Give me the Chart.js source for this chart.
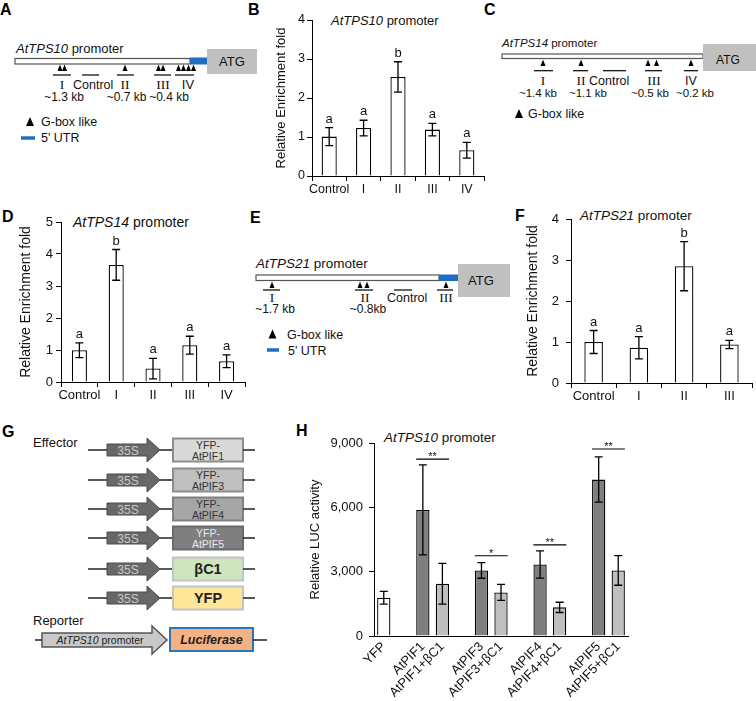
<!DOCTYPE html>
<html>
<head>
<meta charset="utf-8">
<script src="https://cdn.jsdelivr.net/npm/chart.js@4.4.1/dist/chart.umd.min.js"></script>
<style>
    html, body { margin: 0; padding: 0; background: #fff; }
    #fig { position: relative; width: 756px; height: 701px; overflow: hidden; font-family: "Liberation Sans", Arial, sans-serif; }
    #diagrams { position: absolute; left: 0; top: 0; }
    .panel { position: absolute; }
</style>
</head>
<body>
<div id="fig">
    <svg id="diagrams" width="756" height="701" xmlns="http://www.w3.org/2000/svg"></svg>
    <canvas id="chartB" class="panel" style="left:250px;top:0px;width:240px;height:210px" width="240" height="210"></canvas>
    <canvas id="chartD" class="panel" style="left:0px;top:200px;width:255px;height:210px" width="255" height="210"></canvas>
    <canvas id="chartF" class="panel" style="left:500px;top:200px;width:256px;height:210px" width="256" height="210"></canvas>
    <canvas id="chartH" class="panel" style="left:240px;top:420px;width:400px;height:281px" width="400" height="281"></canvas>
</div>
<script>
// --- Data ---
// B: AtTPS10 promoter ChIP
const tps10Labels = ['Control', 'I', 'II', 'III', 'IV'];
const tps10Values = [1.01, 1.23, 2.54, 1.19, 0.66];
const tps10Errors = [0.23, 0.20, 0.39, 0.16, 0.20];
const tps10Letters = ['a', 'a', 'b', 'a', 'a'];

// D: AtTPS14 promoter ChIP
const tps14Labels = ['Control', 'I', 'II', 'III', 'IV'];
const tps14Values = [0.99, 3.66, 0.42, 1.15, 0.65];
const tps14Errors = [0.23, 0.48, 0.32, 0.28, 0.20];
const tps14Letters = ['a', 'b', 'a', 'a', 'a'];

// F: AtTPS21 promoter ChIP
const tps21Labels = ['Control', 'I', 'II', 'III'];
const tps21Values = [1.00, 0.86, 2.85, 0.94];
const tps21Errors = [0.28, 0.27, 0.60, 0.10];
const tps21Letters = ['a', 'a', 'b', 'a'];

// H: LUC activity (empty slots separate the groups)
const lucLabels = ['YFP', '', 'AtPIF1', 'AtPIF1+βC1', '', 'AtPIF3', 'AtPIF3+βC1', '', 'AtPIF4', 'AtPIF4+βC1', '', 'AtPIF5', 'AtPIF5+βC1'];
const lucValues = [1785, null, 5880, 2437, null, 3057, 2033, null, 3337, 1335, null, 7294, 3057];
const lucErrors = [300, null, 2100, 950, null, 365, 372, null, 636, 240, null, 1055, 690];
const lucTicks = [0, 3000, 6000, 9000];
const sigPairs = [[2, 3], [5, 6], [8, 9], [11, 12]];
const sigLevels = [8250, 3740, 4250, 8720];
const sigMarks = ['**', '*', '**', '**'];

const FONT = '"Liberation Sans", Arial, sans-serif';

// --- SVG helpers for the schematic panels ---
const svgNS = 'http://www.w3.org/2000/svg';
const svg = document.getElementById('diagrams');

function el(tag, attrs, text) {
    const e = document.createElementNS(svgNS, tag);
    for (const k in attrs) e.setAttribute(k, attrs[k]);
    if (text != null) e.textContent = text;
    svg.appendChild(e);
    return e;
}
function label(x, y, str, size, extra) {
    return el('text', Object.assign({ x: x, y: y, 'font-size': size, fill: '#111', 'font-family': FONT }, extra || {}), str);
}
function mid(x, y, str, size, extra) {
    return label(x, y, str, size, Object.assign({ 'text-anchor': 'middle' }, extra || {}));
}
function italicLabel(x, y, italicPart, rest, size, extra) {
    const t = label(x, y, '', size, extra);
    const a = document.createElementNS(svgNS, 'tspan');
    a.setAttribute('font-style', 'italic');
    a.textContent = italicPart;
    t.appendChild(a);
    t.appendChild(document.createTextNode(rest));
    return t;
}
// serif roman numerals, like the CJK-style glyphs of the original
function roman(x, y, str, size) {
    return el('text', { x: x, y: y, 'font-size': size || 13.5, fill: '#111', 'text-anchor': 'middle', 'font-family': '"Liberation Serif", "DejaVu Serif", serif' }, str);
}
function tri(cx, baseY, w, h) {
    el('polygon', { points: `${cx - w / 2},${baseY} ${cx + w / 2},${baseY} ${cx},${baseY - h}`, fill: '#000' });
}
function hline(x1, x2, y, w, color) {
    el('line', { x1: x1, y1: y, x2: x2, y2: y, stroke: color || '#000', 'stroke-width': w || 1.2 });
}

// Panel letters
[['A', 0, 15], ['B', 248, 15], ['C', 484, 15], ['D', 2, 222], ['E', 250, 223], ['F', 515, 221], ['G', 2, 437], ['H', 296, 436]]
    .forEach(([t, x, y]) => label(x, y, t, 16, { 'font-weight': 'bold', fill: '#000' }));

// --- Panel A: AtTPS10 promoter ---
italicLabel(16, 53, 'AtTPS10', ' promoter', 13);
el('rect', { x: 15, y: 58.5, width: 175, height: 5.5, fill: '#fff', stroke: '#555', 'stroke-width': 1.2 });
el('rect', { x: 190, y: 57.5, width: 17, height: 7, fill: '#1f6fc0' });
el('rect', { x: 207, y: 49, width: 50, height: 25, fill: '#c0c0c0' });
mid(232, 66, 'ATG', 13);
[60, 64.5, 125, 158.5, 163, 178.5, 183.5, 188.5, 193.5].forEach(x => tri(x, 71, 5, 6.5));
[[53, 71], [82, 99], [117, 134], [154, 171], [175, 194]].forEach(([a, b]) => hline(a, b, 75));
roman(62, 89, 'I');
label(73, 89, 'Control', 12.5);
roman(125, 89, 'II');
roman(163, 89, 'III');
mid(188, 89, 'IV', 13);
mid(64, 101, '~1.3 kb', 12);
mid(126.5, 101, '~0.7 kb', 12);
mid(169, 101, '~0.4 kb', 12);
tri(30, 126, 8, 9);
label(41, 126, 'G-box like', 12.5);
hline(21, 35, 138, 3.5, '#1f6fc0');
label(41, 142, '5\' UTR', 12.5);

// --- Panel C: AtTPS14 promoter ---
italicLabel(502, 47, 'AtTPS14', ' promoter', 11.5);
el('rect', { x: 502, y: 54, width: 201, height: 4.5, fill: '#fff', stroke: '#555', 'stroke-width': 1.2 });
el('rect', { x: 703, y: 44, width: 53, height: 27, fill: '#c0c0c0' });
mid(728, 63.5, 'ATG', 12);
[543, 581, 648, 656.5, 691].forEach(x => tri(x, 66, 5, 6.5));
[[534, 553], [573, 588], [603, 626], [645, 662], [684, 698]].forEach(([a, b]) => hline(a, b, 70.7));
roman(543, 85, 'I');
roman(581, 85, 'II');
label(589, 85, 'Control', 12.5);
roman(654, 85, 'III');
mid(691, 85, 'IV', 12.5);
mid(538, 97, '~1.4 kb', 11.5);
mid(588, 97, '~1.1 kb', 11.5);
mid(650, 97, '~0.5 kb', 11.5);
mid(695, 97, '~0.2 kb', 11.5);
tri(519, 118, 8, 9);
label(528, 118, 'G-box like', 12.5);

// --- Panel E: AtTPS21 promoter ---
italicLabel(256, 268, 'AtTPS21', ' promoter', 13.5);
el('rect', { x: 256, y: 275, width: 183, height: 5.5, fill: '#fff', stroke: '#555', 'stroke-width': 1.2 });
el('rect', { x: 439, y: 274.5, width: 19, height: 6.5, fill: '#1f6fc0' });
el('rect', { x: 458, y: 264, width: 52, height: 33, fill: '#c0c0c0' });
mid(481, 285, 'ATG', 13);
[272, 360, 367, 446].forEach(x => tri(x, 288, 5, 6.5));
[[263, 280], [355, 373], [394, 412], [437, 453]].forEach(([a, b]) => hline(a, b, 290));
roman(272, 302, 'I');
roman(365, 302, 'II');
label(387, 302, 'Control', 12.5);
roman(446, 302, 'III');
mid(275, 313, '~1.7 kb', 12);
mid(368, 313, '~0.8kb', 12);
tri(272.5, 338.5, 8, 9);
label(287, 338.5, 'G-box like', 12.5);
hline(267, 279, 350, 3.5, '#1f6fc0');
label(288, 354.5, '5\' UTR', 12.5);

// --- Panel G: constructs ---
label(33, 447, 'Effector', 13);
const effectorRows = [
    { c: 450, fill: '#d9d9d9', stroke: '#8c8c8c', lines: ['YFP-', 'AtPIF1'], color: '#333' },
    { c: 480, fill: '#bfbfbf', stroke: '#8c8c8c', lines: ['YFP-', 'AtPIF3'], color: '#333' },
    { c: 509, fill: '#a6a6a6', stroke: '#808080', lines: ['YFP-', 'AtPIF4'], color: '#333' },
    { c: 538, fill: '#7f7f7f', stroke: '#6a6a6a', lines: ['YFP-', 'AtPIF5'], color: '#e8e8e8' },
    { c: 569, fill: '#cfe5c0', stroke: '#c4c4c4', bold: 'βC1' },
    { c: 598, fill: '#ffe699', stroke: '#c4c4c4', bold: 'YFP' }
];
effectorRows.forEach(r => {
    const c = r.c;
    hline(88, 107, c, 1.5, '#222');
    el('polygon', { points: `107,${c - 6} 147,${c - 6} 147,${c - 12} 160,${c} 147,${c + 12} 147,${c + 6} 107,${c + 6}`, fill: '#686868', stroke: '#4a4a4a', 'stroke-width': 1 });
    mid(128, c + 4.5, '35S', 12, { fill: '#c8c8c8' });
    hline(160, 173, c, 1.5, '#222');
    el('rect', { x: 173, y: c - 11.5, width: 70, height: 23, fill: r.fill, stroke: r.stroke, 'stroke-width': 2 });
    if (r.lines) {
        mid(208, c - 1.5, r.lines[0], 10.5, { fill: r.color });
        mid(208, c + 10, r.lines[1], 10.5, { fill: r.color });
    } else {
        mid(208, c + 5, r.bold, 14.5, { 'font-weight': 'bold', fill: '#222' });
    }
    hline(243, 255, c, 1.5, '#222');
});
label(33, 625, 'Reporter', 13);
hline(35, 42, 640, 1.5, '#222');
el('polygon', { points: '42,633 152,633 152,626 167,640 152,654 152,647 42,647', fill: '#c8c8c8', stroke: '#555', 'stroke-width': 1.5 });
italicLabel(100, 644, 'AtTPS10', ' promoter', 10.5, { 'text-anchor': 'middle', fill: '#222' });
el('rect', { x: 170, y: 628, width: 83, height: 23, fill: '#f4b183', stroke: '#2e75b6', 'stroke-width': 2 });
mid(211.5, 644, 'Luciferase', 12.5, { 'font-weight': 'bold', 'font-style': 'italic', fill: '#222' });
hline(253, 267, 640, 1.5, '#222');

// Chart titles sitting inside the plot areas
italicLabel(331, 24.5, 'AtTPS10', ' promoter', 13);
italicLabel(73, 227, 'AtTPS14', ' promoter', 14);
italicLabel(580, 220, 'AtTPS21', ' promoter', 13.5);
italicLabel(384, 441.5, 'AtTPS10', ' promoter', 13.5);

// --- Chart.js ---
Chart.defaults.font.family = FONT;
Chart.defaults.color = '#111';
Chart.defaults.animation = false;

const errorBars = {
    id: 'errorBars',
    afterDatasetsDraw(chart, args, opts) {
        const ctx = chart.ctx, y = chart.scales.y;
        const meta = chart.getDatasetMeta(0);
        const values = chart.data.datasets[0].data;
        const cap = opts.cap / 2;
        ctx.save();
        ctx.strokeStyle = '#000';
        ctx.lineWidth = 1.3;
        ctx.fillStyle = '#111';
        ctx.font = `${opts.letterSize || 13}px ${FONT}`;
        ctx.textAlign = 'center';
        ctx.textBaseline = 'alphabetic';
        meta.data.forEach((bar, i) => {
            const v = values[i], e = opts.errors[i];
            if (v == null || e == null) return;
            const top = y.getPixelForValue(v + e), bot = y.getPixelForValue(v - e);
            ctx.beginPath();
            ctx.moveTo(bar.x, top); ctx.lineTo(bar.x, bot);
            ctx.moveTo(bar.x - cap, top); ctx.lineTo(bar.x + cap, top);
            ctx.moveTo(bar.x - cap, bot); ctx.lineTo(bar.x + cap, bot);
            ctx.stroke();
            if (opts.letters) ctx.fillText(opts.letters[i], bar.x, top - 5);
        });
        ctx.restore();
    }
};

const sigBrackets = {
    id: 'sigBrackets',
    afterDatasetsDraw(chart, args, opts) {
        if (!opts.pairs) return;
        const ctx = chart.ctx, y = chart.scales.y;
        const meta = chart.getDatasetMeta(0);
        ctx.save();
        ctx.strokeStyle = '#000';
        ctx.lineWidth = 1.1;
        ctx.fillStyle = '#111';
        ctx.font = `11px ${FONT}`;
        ctx.textAlign = 'center';
        ctx.textBaseline = 'alphabetic';
        opts.pairs.forEach(([a, b], k) => {
            const ba = meta.data[a], bb = meta.data[b];
            const x1 = ba.x - ba.width / 2, x2 = bb.x + bb.width / 2;
            const py = y.getPixelForValue(opts.levels[k]);
            ctx.beginPath();
            ctx.moveTo(x1, py); ctx.lineTo(x2, py);
            ctx.stroke();
            ctx.fillText(opts.marks[k], (x1 + x2) / 2, py + 1);
        });
        ctx.restore();
    }
};

function enrichmentChart(id, labels, values, errors, letters, cfg) {
    return new Chart(document.getElementById(id), {
        type: 'bar',
        data: {
            labels: labels,
            datasets: [{
                data: values,
                backgroundColor: '#ffffff',
                borderColor: '#000',
                borderWidth: 1.3,
                categoryPercentage: 1,
                barPercentage: cfg.barPct
            }]
        },
        options: {
            responsive: false,
            animation: false,
            layout: { padding: cfg.padding },
            plugins: {
                legend: { display: false },
                tooltip: { enabled: false },
                errorBars: { errors: errors, letters: letters, cap: 8, letterSize: 13 }
            },
            scales: {
                x: {
                    grid: { display: true, drawOnChartArea: false, tickLength: 5, color: '#000' },
                    border: { color: '#000', width: 1 },
                    ticks: { font: { size: cfg.tickSize }, padding: 1, color: '#111', minRotation: 0, maxRotation: 0, autoSkip: false },
                    afterFit: s => { s.height = cfg.xHeight; }
                },
                y: {
                    min: 0,
                    max: cfg.max,
                    ticks: { stepSize: 1, font: { size: cfg.tickSize }, padding: cfg.tickPad, color: '#111' },
                    grid: { display: true, drawOnChartArea: false, tickLength: 5, color: '#000' },
                    border: { color: '#000', width: 1 },
                    title: {
                        display: true,
                        text: 'Relative Enrichment fold',
                        font: { size: cfg.titleSize },
                        color: '#111',
                        padding: { top: cfg.titlePad, bottom: 0 }
                    },
                    afterFit: s => { s.width = cfg.yWidth; }
                }
            }
        },
        plugins: [errorBars]
    });
}

enrichmentChart('chartB', tps10Labels, tps10Values, tps10Errors, tps10Letters, {
    padding: { left: 0, right: 6, top: 20, bottom: 0 },
    yWidth: 62, xHeight: 34, max: 4, tickSize: 12.5, tickPad: 2,
    titleSize: 13, titlePad: 24, barPct: 0.44
});
enrichmentChart('chartD', tps14Labels, tps14Values, tps14Errors, tps14Letters, {
    padding: { left: 0, right: 10, top: 22, bottom: 0 },
    yWidth: 61, xHeight: 28, max: 5, tickSize: 13, tickPad: 3,
    titleSize: 14, titlePad: 17.5, barPct: 0.41
});
enrichmentChart('chartF', tps21Labels, tps21Values, tps21Errors, tps21Letters, {
    padding: { left: 0, right: 4, top: 19, bottom: 0 },
    yWidth: 71, xHeight: 27, max: 4, tickSize: 13, tickPad: 7,
    titleSize: 14, titlePad: 24.5, barPct: 0.41
});

const lucFill = lucLabels.map(l => l === 'YFP' ? '#ffffff' : (l.includes('βC1') ? '#bfbfbf' : '#7f7f7f'));

new Chart(document.getElementById('chartH'), {
    type: 'bar',
    data: {
        labels: lucLabels,
        datasets: [{
            data: lucValues,
            backgroundColor: lucFill,
            borderColor: '#000',
            borderWidth: 1.3,
            categoryPercentage: 1,
            barPercentage: 0.68
        }]
    },
    options: {
        responsive: false,
        animation: false,
        layout: { padding: { left: 0, right: 12, top: 23, bottom: 0 } },
        plugins: {
            legend: { display: false },
            tooltip: { enabled: false },
            errorBars: { errors: lucErrors, cap: 8 },
            sigBrackets: { pairs: sigPairs, levels: sigLevels, marks: sigMarks }
        },
        scales: {
            x: {
                grid: { display: true, drawOnChartArea: false, drawTicks: false },
                border: { color: '#000', width: 1 },
                ticks: { font: { size: 13 }, padding: 3, color: '#111', autoSkip: false, minRotation: 45, maxRotation: 45 },
                afterFit: s => { s.height = 65; }
            },
            y: {
                min: 0,
                max: lucTicks[lucTicks.length - 1],
                afterBuildTicks: s => { s.ticks = lucTicks.map(v => ({ value: v })); },
                ticks: { font: { size: 13 }, padding: 6, color: '#111', callback: v => v.toLocaleString('en-US') },
                grid: { display: true, drawOnChartArea: false, tickLength: 5, color: '#000' },
                border: { color: '#000', width: 1 },
                title: {
                    display: true,
                    text: 'Relative LUC activity',
                    font: { size: 13 },
                    color: '#111',
                    padding: { top: 68, bottom: 0 }
                },
                afterFit: s => { s.width = 134; }
            }
        }
    },
    plugins: [errorBars, sigBrackets]
});
</script>
</body>
</html>
